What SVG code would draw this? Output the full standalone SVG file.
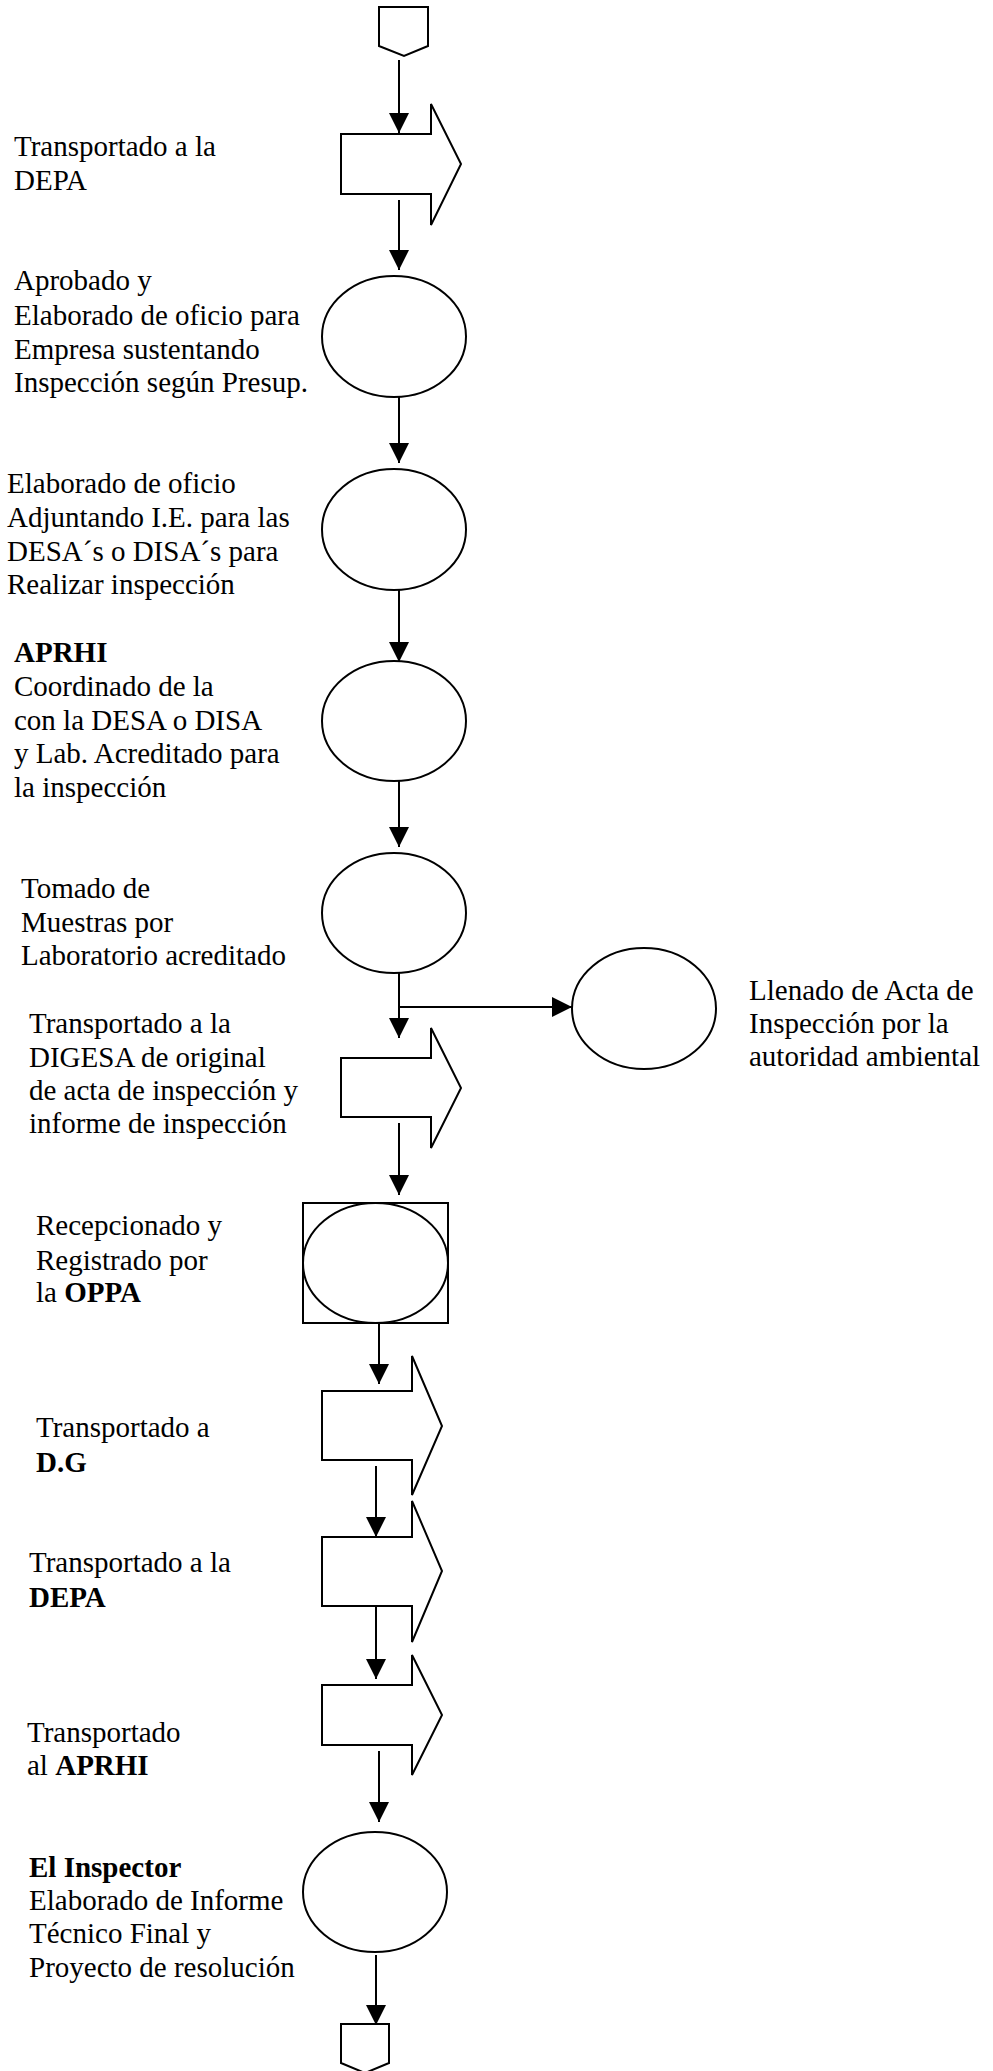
<svg xmlns="http://www.w3.org/2000/svg" width="993" height="2071" viewBox="0 0 993 2071">
<style>
.s{fill:#fff;stroke:#000;stroke-width:2}
.c{fill:none;stroke:#000;stroke-width:2}
text{font-family:"Liberation Serif","Times New Roman",serif;font-size:29px;fill:#000}
.b{font-weight:bold}
</style>
<defs>
<marker id="ah" markerUnits="userSpaceOnUse" markerWidth="20" markerHeight="20" refX="20" refY="10" orient="auto">
<path d="M0,0 L20,10 L0,20 z" fill="#000"/>
</marker>
</defs>
<rect width="993" height="2071" fill="#fff"/>
<g id="connectors">
<line class="c" x1="399" y1="60" x2="399" y2="133" marker-end="url(#ah)"/>
<line class="c" x1="399" y1="200" x2="399" y2="270" marker-end="url(#ah)"/>
<line class="c" x1="399" y1="393" x2="399" y2="463" marker-end="url(#ah)"/>
<line class="c" x1="399" y1="590" x2="399" y2="662" marker-end="url(#ah)"/>
<line class="c" x1="399" y1="776" x2="399" y2="847" marker-end="url(#ah)"/>
<line class="c" x1="399" y1="968" x2="399" y2="1038" marker-end="url(#ah)"/>
<line class="c" x1="399" y1="1007" x2="572" y2="1007" marker-end="url(#ah)"/>
<line class="c" x1="399" y1="1123" x2="399" y2="1195" marker-end="url(#ah)"/>
<line class="c" x1="379" y1="1313" x2="379" y2="1384" marker-end="url(#ah)"/>
<line class="c" x1="376" y1="1466" x2="376" y2="1537" marker-end="url(#ah)"/>
<line class="c" x1="376" y1="1606" x2="376" y2="1679" marker-end="url(#ah)"/>
<line class="c" x1="379" y1="1751" x2="379" y2="1822" marker-end="url(#ah)"/>
<line class="c" x1="376" y1="1955" x2="376" y2="2025" marker-end="url(#ah)"/>
</g>
<g id="start">
<polygon class="s" points="379,7 428,7 428,46 404,56 379,46"/>
</g>
<g id="n1">
<polygon class="s" points="341,134 431,134 431,104 461,164 431,225 431,194 341,194"/>
<text x="14" y="156">Transportado a la</text>
<text x="14" y="190">DEPA</text>
</g>
<g id="n2">
<ellipse class="s" cx="394" cy="336.5" rx="72" ry="60.5"/>
<text x="14" y="290">Aprobado y</text>
<text x="14" y="325">Elaborado de oficio para</text>
<text x="14" y="359">Empresa sustentando</text>
<text x="14" y="392">Inspección según Presup.</text>
</g>
<g id="n3">
<ellipse class="s" cx="394" cy="529.5" rx="72" ry="60.5"/>
<text x="7" y="493">Elaborado de oficio</text>
<text x="7" y="527">Adjuntando I.E. para las</text>
<text x="7" y="561">DESA´s o DISA´s para</text>
<text x="7" y="594">Realizar inspección</text>
</g>
<g id="n4">
<ellipse class="s" cx="394" cy="721" rx="72" ry="60"/>
<text x="14" y="662" class="b">APRHI</text>
<text x="14" y="696">Coordinado de la</text>
<text x="14" y="730">con la DESA o DISA</text>
<text x="14" y="763">y Lab. Acreditado para</text>
<text x="14" y="797">la inspección</text>
</g>
<g id="n5">
<ellipse class="s" cx="394" cy="913" rx="72" ry="60"/>
<text x="21" y="898">Tomado de</text>
<text x="21" y="932">Muestras por</text>
<text x="21" y="965">Laboratorio acreditado</text>
</g>
<g id="n6">
<ellipse class="s" cx="644" cy="1008.5" rx="72" ry="60.5"/>
<text x="749" y="1000">Llenado de Acta de</text>
<text x="749" y="1033">Inspección por la</text>
<text x="749" y="1066">autoridad ambiental</text>
</g>
<g id="n7">
<polygon class="s" points="341,1058 431,1058 431,1028 461,1088 431,1148 431,1117 341,1117"/>
<text x="29" y="1033">Transportado a la</text>
<text x="29" y="1067">DIGESA de original</text>
<text x="29" y="1100">de acta de inspección y</text>
<text x="29" y="1133">informe de inspección</text>
</g>
<g id="n8">
<rect class="s" x="303" y="1203" width="145" height="120"/>
<ellipse class="s" cx="375.5" cy="1263" rx="72.5" ry="60"/>
<text x="36" y="1235">Recepcionado y</text>
<text x="36" y="1270">Registrado por</text>
<text x="36" y="1302">la <tspan class="b">OPPA</tspan></text>
</g>
<g id="n9">
<polygon class="s" points="322,1391 412,1391 412,1356 442,1426 412,1495 412,1460 322,1460"/>
<text x="36" y="1437">Transportado a</text>
<text x="36" y="1472" class="b">D.G</text>
</g>
<g id="n10">
<polygon class="s" points="322,1537 412,1537 412,1501 442,1571 412,1642 412,1606 322,1606"/>
<text x="29" y="1572">Transportado a la</text>
<text x="29" y="1607" class="b">DEPA</text>
</g>
<g id="n11">
<polygon class="s" points="322,1685 412,1685 412,1655 442,1715 412,1775 412,1745 322,1745"/>
<text x="27" y="1742">Transportado</text>
<text x="27" y="1775">al <tspan class="b">APRHI</tspan></text>
</g>
<g id="n12">
<ellipse class="s" cx="375" cy="1892" rx="72" ry="60"/>
<text x="29" y="1877" class="b">El Inspector</text>
<text x="29" y="1910">Elaborado de Informe</text>
<text x="29" y="1943">Técnico Final y</text>
<text x="29" y="1977">Proyecto de resolución</text>
</g>
<g id="end">
<polygon class="s" points="341,2024 389,2024 389,2063 365,2073 341,2063"/>
</g>
</svg>
